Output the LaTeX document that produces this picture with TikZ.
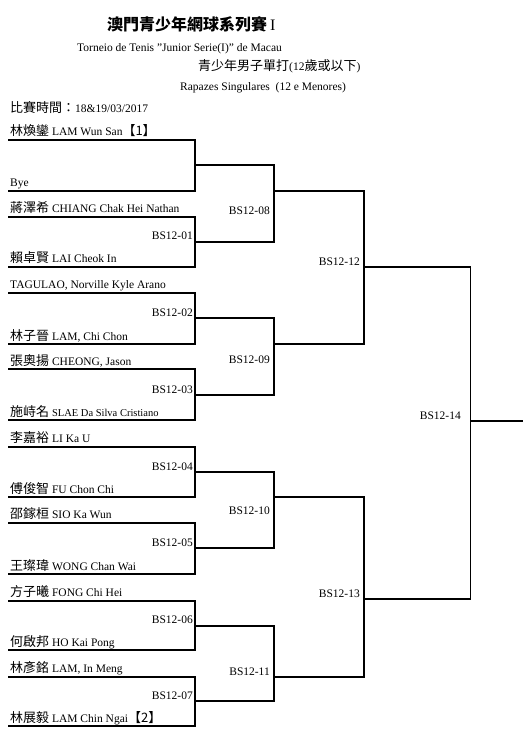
\documentclass[tikz,border=0pt]{standalone}
\usepackage{fontspec}
\setmainfont{Liberation Serif}
\newfontfamily\cjk{Noto Sans CJK TC}
\newcommand\zh[2][13]{{\cjk\fontsize{#1}{#1}\selectfont #2}}
\begin{document}
\begin{tikzpicture}[x=1pt,y=-1pt,
  bline/.style={line width=1.7pt,line join=miter},
  pname/.style={anchor=base west,inner sep=0pt,font=\fontsize{11.5}{12}\selectfont},
  mlabel/.style={anchor=base east,inner sep=0pt,font=\fontsize{11.5}{12}\selectfont},
  head/.style={anchor=base west,inner sep=0pt,font=\fontsize{11.5}{12}\selectfont}]
\useasboundingbox (0,0) rectangle (531,746);
% header
\node[head] (t1) at (107,31) {\zh[16]{\bfseries 澳門青少年網球系列賽} {\fontsize{16}{16}\selectfont I}};
\node[head] (t2) at (77,52) {Torneio de Tenis \char34 Junior Serie(I)\char34{} de Macau};
\node[head] (t3) at (198,71) {\zh{青少年男子單打}(12\zh{歲或以下})};
\node[head] (t4) at (180,91) {Rapazes Singulares\ \ (12 e Menores)};
\node[head] (t5) at (10,113) {\zh{比賽時間：}18\&19/03/2017};
% player line end points
\foreach \i/\y in {1/140,2/190.7,3/216.7,4/266.7,5/292.7,6/344,7/369.3,8/420,9/446.7,10/497.3,11/522.7,12/574,13/600.7,14/650,15/676.7,16/726}{
  \coordinate (a\i) at (8,\y);
  \coordinate (b\i) at (195,\y);
}
% players
\node[pname] (p1) at (10,136) {\zh{林煥鑾} LAM Wun San\zh{【1】}};
\node[pname] (p2) at (10,186.7) {Bye};
\node[pname] (p3) at (10,212.7) {\zh{蔣澤希} CHIANG Chak Hei Nathan};
\node[pname] (p4) at (10,262.7) {\zh{賴卓賢} LAI Cheok In};
\node[pname] (p5) at (10,288.7) {TAGULAO, Norville Kyle Arano};
\node[pname] (p6) at (10,340) {\zh{林子晉} LAM, Chi Chon};
\node[pname] (p7) at (10,365.3) {\zh{張奧揚} CHEONG, Jason};
\node[pname] (p8) at (10,416) {\zh{施峙名} {\fontsize{10.5}{11}\selectfont SLAE Da Silva Cristiano}};
\node[pname] (p9) at (10,442.7) {\zh{李嘉裕} LI Ka U};
\node[pname] (p10) at (10,493.3) {\zh{傅俊智} FU Chon Chi};
\node[pname] (p11) at (10,518.7) {\zh{邵鎵桓} SIO Ka Wun};
\node[pname] (p12) at (10,570) {\zh{王璨瑋} WONG Chan Wai};
\node[pname] (p13) at (10,596.7) {\zh{方子曦} FONG Chi Hei};
\node[pname] (p14) at (10,646) {\zh{何啟邦} HO Kai Pong};
\node[pname] (p15) at (10,672.7) {\zh{林彥銘} LAM, In Meng};
\node[pname] (p16) at (10,722) {\zh{林展毅} LAM Chin Ngai\zh{【2】}};
% match points
\coordinate (m0) at (195,165.3);
\coordinate (m1) at (195,241.7);
\coordinate (m2) at (195,318.3);
\coordinate (m3) at (195,395);
\coordinate (m4) at (195,471.7);
\coordinate (m5) at (195,547.7);
\coordinate (m6) at (195,626);
\coordinate (m7) at (195,701.3);
\coordinate (m8) at (274,190.7);
\coordinate (m9) at (274,344);
\coordinate (m10) at (274,497.3);
\coordinate (m11) at (274,676.7);
\coordinate (m12) at (364.3,267.3);
\coordinate (m13) at (364.3,599.3);
\coordinate (m14) at (470.5,421);
\coordinate (w) at (523,421);
% round 1
\foreach \i/\j in {1/2,3/4,5/6,7/8,9/10,11/12,13/14,15/16}{
  \draw[bline] (a\i) -- (b\i) -- (b\j) -- (a\j);
}
% round 2
\draw[bline] (m0) -- (m0 -| m8) -- (m1 -| m8) -- (m1);
\draw[bline] (m2) -- (m2 -| m9) -- (m3 -| m9) -- (m3);
\draw[bline] (m4) -- (m4 -| m10) -- (m5 -| m10) -- (m5);
\draw[bline] (m6) -- (m6 -| m11) -- (m7 -| m11) -- (m7);
% round 3
\draw[bline] (m8) -- (m8 -| m12) -- (m9 -| m12) -- (m9);
\draw[bline] (m10) -- (m10 -| m13) -- (m11 -| m13) -- (m11);
% round 4
\draw[bline] (m12) -- (m12 -| m14) -- (m13 -| m14) -- (m13);
\draw[bline] (m14) -- (w);
% match labels
\node[mlabel] (l1) at (193,239.5) {BS12-01};
\node[mlabel] (l2) at (193,316.5) {BS12-02};
\node[mlabel] (l3) at (193,393.5) {BS12-03};
\node[mlabel] (l4) at (193,470) {BS12-04};
\node[mlabel] (l5) at (193,546) {BS12-05};
\node[mlabel] (l6) at (193,623.5) {BS12-06};
\node[mlabel] (l7) at (193,699.5) {BS12-07};
\node[mlabel] (l8) at (270,214) {BS12-08};
\node[mlabel] (l9) at (270,363) {BS12-09};
\node[mlabel] (l10) at (270,514) {BS12-10};
\node[mlabel] (l11) at (270,675) {BS12-11};
\node[mlabel] (l12) at (360,265.5) {BS12-12};
\node[mlabel] (l13) at (360,597.5) {BS12-13};
\node[mlabel] (l14) at (461,419) {BS12-14};
\end{tikzpicture}
\end{document}
